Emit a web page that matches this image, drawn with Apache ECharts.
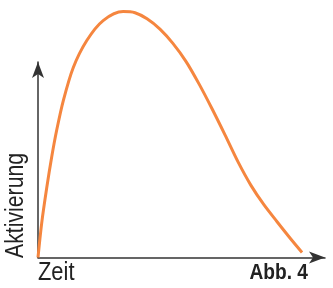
<!DOCTYPE html>
<html>
<head>
<meta charset="utf-8">
<script src="https://cdn.jsdelivr.net/npm/echarts@6/dist/echarts.min.js"></script>
<style>
  html, body { margin: 0; padding: 0; background: #fff; }
  #chart { width: 333px; height: 288px; }
</style>
</head>
<body>
<div id="chart"></div>
<script>
// Zeit (x) und Aktivierung (y)
const zeit = [0, 1.29, 3.03, 4.77, 6.52, 8.82, 12.3, 17.0, 22.7, 29.7, 33.8, 38.0, 42.5, 47.0, 51.6, 56.1, 60.6, 65.2, 69.7, 74.2, 78.7, 83.3, 87.8, 92.0];
const aktivierung = [0, 17.6, 35.5, 51.4, 65.2, 80.3, 97.2, 111.0, 121.2, 125.8, 125.2, 122.1, 116.8, 109.5, 100.2, 88.8, 76.2, 62.6, 48.9, 36.9, 27.0, 18.3, 10.0, 2.6];

const axisLabelX = 'Zeit';
const axisLabelY = 'Aktivierung';
const caption = 'Abb. 4';

const chart = echarts.init(document.getElementById('chart'));

const axisCommon = {
  type: 'value',
  min: 0,
  max: 100,
  axisLine: {
    show: true,
    symbol: ['none', 'arrow'],
    symbolSize: [9, 16],
    lineStyle: { color: '#333', width: 1.5 }
  },
  axisTick: { show: false },
  axisLabel: { show: false },
  splitLine: { show: false }
};

const font = '"Liberation Sans", Arial, sans-serif';

chart.setOption({
  animation: false,
  grid: { left: 38, right: 8, top: 62, bottom: 30.5 },
  xAxis: axisCommon,
  yAxis: axisCommon,
  series: [{
    type: 'line',
    data: zeit.map((x, i) => [x, aktivierung[i]]),
    smooth: 0.3,
    clip: false,
    showSymbol: false,
    lineStyle: { color: '#f5863f', width: 3 }
  }],
  graphic: [
    {
      // Achsentitel y, von unten nach oben
      type: 'text',
      x: 4, y: 258,
      rotation: Math.PI / 2,
      scaleX: 0.85,
      style: { text: axisLabelY, font: '25px ' + font, fill: '#222', align: 'left', verticalAlign: 'top' }
    },
    {
      type: 'text',
      x: 38, y: 261,
      scaleX: 0.875,
      style: { text: axisLabelX, font: '25px ' + font, fill: '#222', align: 'left', verticalAlign: 'top' }
    },
    {
      type: 'text',
      x: 308, y: 262,
      scaleX: 0.87,
      style: { text: caption, font: 'bold 22px ' + font, fill: '#222', align: 'right', verticalAlign: 'top' }
    }
  ]
});
</script>
</body>
</html>
